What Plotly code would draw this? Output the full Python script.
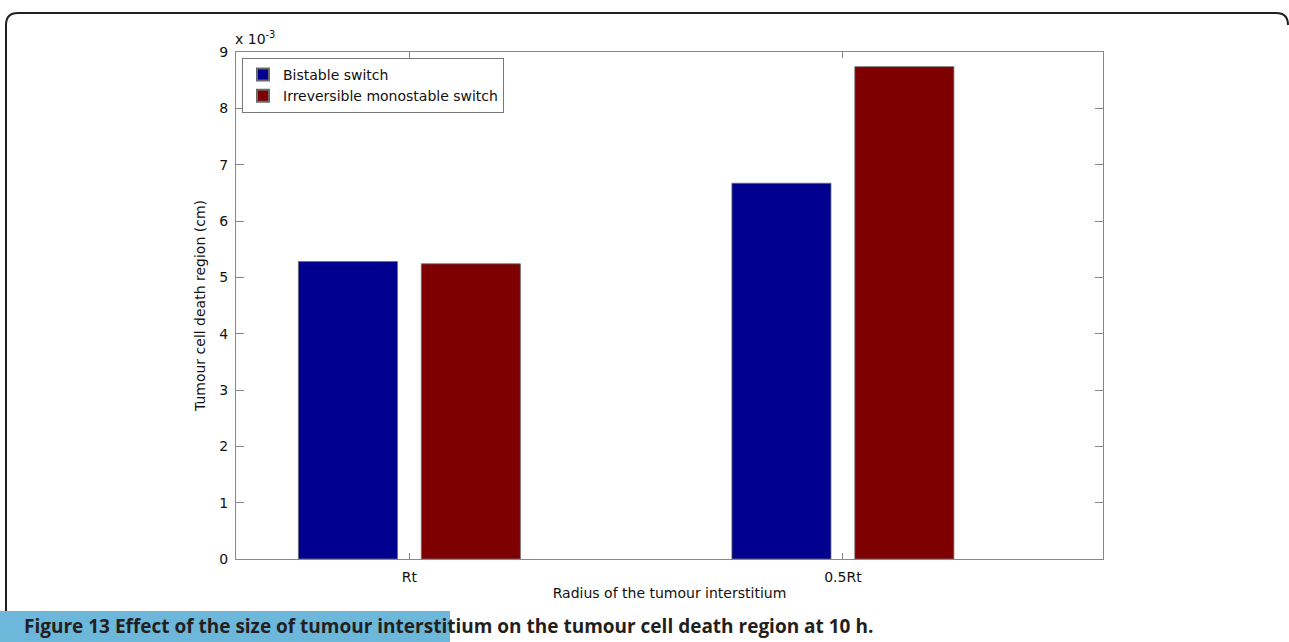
import plotly.graph_objects as go

# Tumour cell death region (units of 1e-3 cm) for each interstitium radius
categories = ["Rt", "0.5Rt"]
bistable = [5.28, 6.67]
irreversible = [5.24, 8.74]
y_ticks = [0, 1, 2, 3, 4, 5, 6, 7, 8, 9]

W, H = 1289, 642
L, R, T, B = 236, 1103, 52, 559  # plot area in pixels


def px(x):
    return (x - L) / (R - L)


def py(y):
    return (B - y) / (B - T)


fig = go.Figure()
fig.add_trace(go.Bar(
    name="Bistable switch", x=categories, y=bistable,
    marker=dict(color="#00008f", line=dict(color="#6a6a6a", width=0.8)),
))
fig.add_trace(go.Bar(
    name="Irreversible monostable switch", x=categories, y=irreversible,
    marker=dict(color="#7f0000", line=dict(color="#6a6a6a", width=0.8)),
))

axis_font = dict(family="DejaVu Sans", size=14, color="#111")

fig.update_layout(
    width=W, height=H,
    margin=dict(l=L, r=W - R, t=T, b=H - B),
    paper_bgcolor="white", plot_bgcolor="white",
    barmode="group", bargap=0.433, bargroupgap=0.194,
    font=axis_font,
    showlegend=True,
    legend=dict(
        x=px(242), y=py(58), xanchor="left", yanchor="top",
        bgcolor="white", bordercolor="#777", borderwidth=1,
        font=axis_font, tracegroupgap=0, itemsizing="constant",
    ),
    xaxis=dict(
        range=[-0.4, 1.6], showline=True, linecolor="#888", linewidth=1,
        mirror="ticks", ticks="inside", ticklen=6, tickcolor="#888",
        showgrid=False, zeroline=False, ticklabelstandoff=5,
        title=dict(text="Radius of the tumour interstitium", font=axis_font, standoff=4),
    ),
    yaxis=dict(
        range=[0, 9], tickvals=y_ticks, showline=True, linecolor="#888", linewidth=1,
        mirror="ticks", ticks="inside", ticklen=8, tickcolor="#888",
        showgrid=False, zeroline=False, ticklabelstandoff=4,
        title=dict(text="Tumour cell death region (cm)", font=axis_font, standoff=10),
    ),
)

# exponent label above the y axis
fig.add_annotation(
    x=px(233), y=py(49), xref="paper", yref="paper", xanchor="left", yanchor="bottom",
    text="x 10<sup>-3</sup>", showarrow=False, font=axis_font,
)

# rounded frame around the figure panel
r = 12
x0, y0, x1, y1 = 6, 13, 1288, 611
frame = (
    f"M {px(x0)},{py(y1)} L {px(x0)},{py(y0 + r)} "
    f"Q {px(x0)},{py(y0)} {px(x0 + r)},{py(y0)} "
    f"L {px(x1 - r)},{py(y0)} Q {px(x1)},{py(y0)} {px(x1)},{py(y0 + r)}"
)
fig.add_shape(type="path", path=frame, xref="paper", yref="paper",
              line=dict(color="#231f20", width=2), layer="below")

# caption band and caption text
fig.add_shape(type="rect", xref="paper", yref="paper",
              x0=px(0), x1=px(450), y0=py(642), y1=py(611),
              fillcolor="#6cb7da", line=dict(width=0), layer="below")
fig.add_annotation(
    x=px(22), y=py(626), xref="paper", yref="paper", xanchor="left", yanchor="middle",
    text="<b>Figure 13 Effect of the size of tumour interstitium on the tumour cell death region at 10 h.</b>",
    showarrow=False, font=dict(family="Open Sans", size=19, color="#231f20"),
)

fig.write_html("out.html")
